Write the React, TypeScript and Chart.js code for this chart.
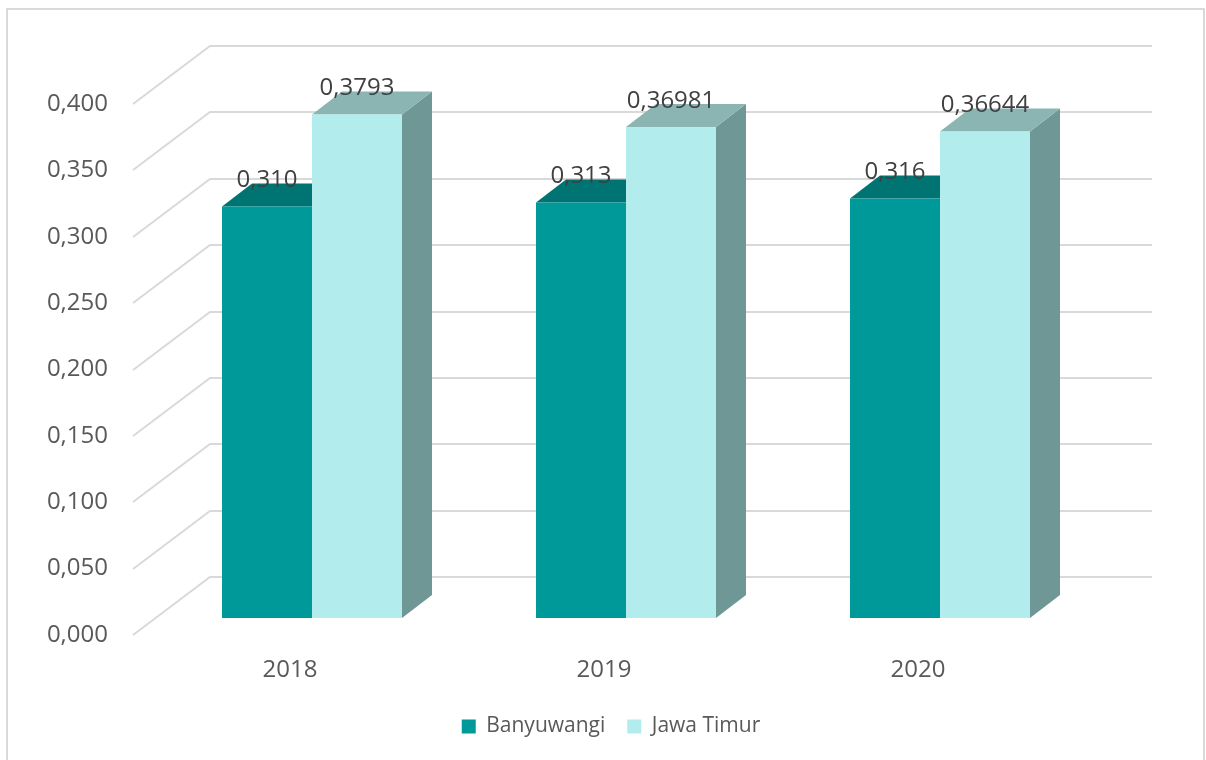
import React, { useEffect, useRef } from "react";
import { Chart, registerables } from "chart.js";

Chart.register(...registerables);

// ---- data ----
const categories = ["2018", "2019", "2020"];
const banyuwangi = [0.31, 0.313, 0.316];
const jawaTimur = [0.3793, 0.36981, 0.36644];
const banyuwangiLabels = ["0,310", "0,313", "0,316"];
const jawaTimurLabels = ["0,3793", "0,36981", "0,36644"];
const seriesNames = ["Banyuwangi", "Jawa Timur"];

// ---- style ----
const FONT = "'Open Sans', 'DejaVu Sans', sans-serif";
const faceColors = [
  { front: "#009999", top: "#007373", side: "#006666" },
  { front: "#B3ECEC", top: "#8AB5B3", side: "#6F9795" },
];
const GRID = "#d9d9d9";
const DEPTH_X = 77; // full floor depth (front plane -> back wall)
const DEPTH_Y = 58;
const BAR_OFF_X = 22; // bar front face offset from front plane
const BAR_OFF_Y = 17;
const BAR_D_X = 30; // bar depth
const BAR_D_Y = 23;

const threeD = {
  id: "threeD",
  beforeDraw(chart: any) {
    const ctx = chart.ctx;
    ctx.save();
    ctx.strokeStyle = GRID;
    ctx.lineWidth = 2;
    ctx.strokeRect(7, 9, 1197, 800);
    ctx.restore();
  },
  beforeDatasetsDraw(chart: any) {
    const ctx = chart.ctx;
    const area = chart.chartArea;
    const y = chart.scales.y;
    ctx.save();
    ctx.strokeStyle = GRID;
    ctx.lineWidth = 2;
    y.ticks.forEach((t: any) => {
      const py = Math.round(y.getPixelForValue(t.value));
      ctx.beginPath();
      ctx.moveTo(area.left, py);
      ctx.lineTo(area.left + DEPTH_X, py - DEPTH_Y);
      ctx.lineTo(area.right + DEPTH_X, py - DEPTH_Y);
      ctx.stroke();
    });
    ctx.restore();
  },
  beforeDatasetDraw() {
    return false;
  },
  afterDatasetsDraw(chart: any) {
    const ctx = chart.ctx;
    const metas = chart.data.datasets.map((_: any, i: number) => chart.getDatasetMeta(i));
    ctx.save();
    for (let c = 0; c < categories.length; c++) {
      metas.forEach((meta: any, d: number) => {
        const el = meta.data[c];
        const w = el.width;
        const L = el.x - w / 2 + BAR_OFF_X;
        const R = el.x + w / 2 + BAR_OFF_X;
        const T = el.y - BAR_OFF_Y;
        const B = el.base - BAR_OFF_Y;
        const col = faceColors[d];
        ctx.fillStyle = col.side;
        ctx.beginPath();
        ctx.moveTo(R, T);
        ctx.lineTo(R + BAR_D_X, T - BAR_D_Y);
        ctx.lineTo(R + BAR_D_X, B - BAR_D_Y);
        ctx.lineTo(R, B);
        ctx.closePath();
        ctx.fill();
        ctx.fillStyle = col.top;
        ctx.beginPath();
        ctx.moveTo(L, T);
        ctx.lineTo(R, T);
        ctx.lineTo(R + BAR_D_X, T - BAR_D_Y);
        ctx.lineTo(L + BAR_D_X, T - BAR_D_Y);
        ctx.closePath();
        ctx.fill();
        ctx.fillStyle = col.front;
        ctx.fillRect(L, T, R - L, B - T);
      });
    }
    ctx.font = `24px ${FONT}`;
    ctx.fillStyle = "#404040";
    ctx.textAlign = "center";
    ctx.textBaseline = "middle";
    const labelSets = [banyuwangiLabels, jawaTimurLabels];
    metas.forEach((meta: any, d: number) => {
      meta.data.forEach((el: any, c: number) => {
        ctx.fillText(labelSets[d][c], el.x + BAR_OFF_X, el.y - BAR_OFF_Y - 26);
      });
    });
    ctx.restore();
  },
};

export default function App() {
  const ref = useRef<HTMLCanvasElement | null>(null);
  useEffect(() => {
    if (!ref.current) return;
    const chart = new Chart(ref.current, {
      type: "bar",
      data: {
        labels: categories,
        datasets: [
          {
            label: seriesNames[0],
            data: banyuwangi,
            backgroundColor: faceColors[0].front,
            borderWidth: 0,
            categoryPercentage: 180 / 314,
            barPercentage: 1,
          },
          {
            label: seriesNames[1],
            data: jawaTimur,
            backgroundColor: faceColors[1].front,
            borderWidth: 0,
            categoryPercentage: 180 / 314,
            barPercentage: 1,
          },
        ],
      },
      options: {
        animation: false,
        responsive: true,
        maintainAspectRatio: false,
        layout: { padding: { top: 104, right: 0, left: 16, bottom: 13 } },
        scales: {
          x: {
            grid: { display: false, drawTicks: false },
            border: { display: false },
            ticks: { color: "#595959", font: { family: FONT, size: 24 }, padding: 21 },
            afterFit: (s: any) => {
              s.height = 59;
            },
          },
          y: {
            min: 0,
            max: 0.4,
            grid: { display: false, drawTicks: false },
            border: { display: false },
            ticks: {
              stepSize: 0.05,
              color: "#595959",
              font: { family: FONT, size: 24 },
              padding: 25,
              callback: (v: any) => Number(v).toFixed(3).replace(".", ","),
            },
            afterFit: (s: any) => {
              s.width = 117;
            },
          },
          yRight: {
            type: "linear",
            position: "right",
            display: true,
            grid: { display: false, drawTicks: false },
            border: { display: false },
            ticks: { display: false },
            afterFit: (s: any) => {
              s.width = 131;
            },
          },
        },
        plugins: {
          legend: {
            position: "bottom",
            labels: {
              boxWidth: 14,
              boxHeight: 14,
              padding: 22,
              color: "#595959",
              font: { family: FONT, size: 21 },
            },
          },
          tooltip: { enabled: false },
        },
      },
      plugins: [threeD],
    });
    return () => chart.destroy();
  }, []);
  return (
    <div style={{ position: "fixed", left: 0, top: 0, width: 1206, height: 760, background: "#fff" }}>
      <canvas ref={ref} />
    </div>
  );
}
